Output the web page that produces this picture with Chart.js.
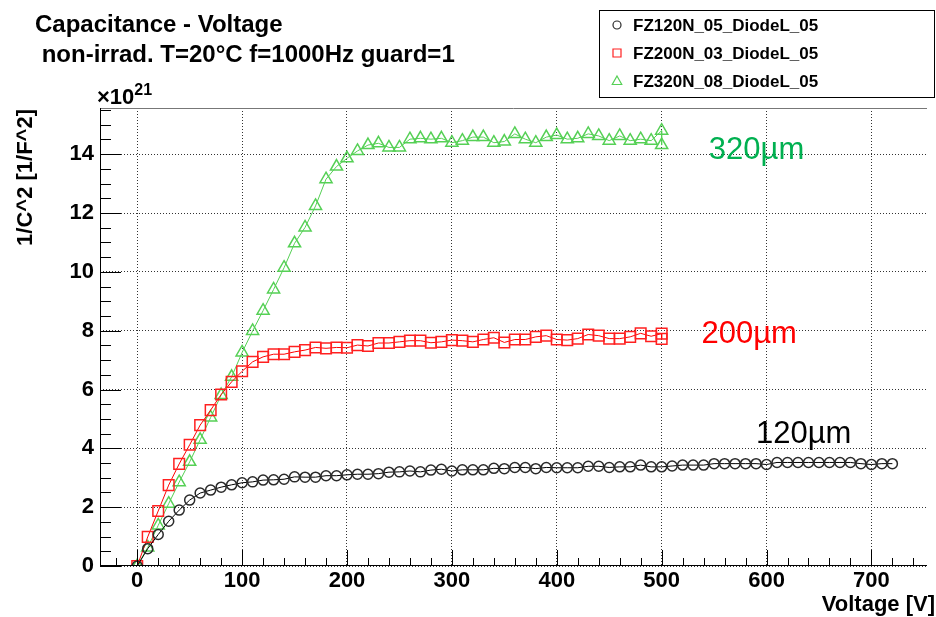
<!DOCTYPE html>
<html>
<head>
<meta charset="utf-8">
<title>Capacitance - Voltage</title>
<script src="https://cdn.jsdelivr.net/npm/chart.js@4/dist/chart.umd.min.js"></script>
<style>
  html, body { margin: 0; padding: 0; background: #fff; overflow: hidden; }
  canvas { display: block; }
</style>
</head>
<body>
<canvas id="cvChart" width="936" height="617"></canvas>
<script>
// bias voltage points [V] for each diode
let volts120 = [0, 10, 20, 30, 40, 50, 60, 70, 80, 90, 100, 110, 120, 130, 140, 150, 160, 170, 180, 190,
    200, 210, 220, 230, 240, 250, 260, 270, 280, 290, 300, 310, 320, 330, 340, 350, 360, 370, 380, 390,
    400, 410, 420, 430, 440, 450, 460, 470, 480, 490, 500, 510, 520, 530, 540, 550, 560, 570, 580, 590,
    600, 610, 620, 630, 640, 650, 660, 670, 680, 690, 700, 710, 720];
let volts200 = [0, 10, 20, 30, 40, 50, 60, 70, 80, 90, 100, 110, 120, 130, 140, 150, 160, 170, 180, 190,
    200, 210, 220, 230, 240, 250, 260, 270, 280, 290, 300, 310, 320, 330, 340, 350, 360, 370, 380, 390,
    400, 410, 420, 430, 440, 450, 460, 470, 480, 490, 500, 500];
let volts320 = [0, 10, 20, 30, 40, 50, 60, 70, 80, 90, 100, 110, 120, 130, 140, 150, 160, 170, 180, 190,
    200, 210, 220, 230, 240, 250, 260, 270, 280, 290, 300, 310, 320, 330, 340, 350, 360, 370, 380, 390,
    400, 410, 420, 430, 440, 450, 460, 470, 480, 490, 500, 500];

// 1/C^2 in units of 1e21 F^-2
let invC2_120 = [0, 0.59, 1.07, 1.52, 1.90, 2.24, 2.48, 2.58, 2.68, 2.76, 2.83, 2.86, 2.92, 2.93, 2.95, 3.03, 3.02, 3.02, 3.07, 3.07,
    3.10, 3.12, 3.12, 3.14, 3.19, 3.20, 3.23, 3.20, 3.26, 3.29, 3.23, 3.27, 3.27, 3.27, 3.32, 3.31, 3.35, 3.35, 3.31, 3.35,
    3.34, 3.34, 3.34, 3.39, 3.39, 3.35, 3.37, 3.37, 3.43, 3.37, 3.37, 3.40, 3.43, 3.43, 3.43, 3.48, 3.48, 3.48, 3.48, 3.48,
    3.45, 3.52, 3.52, 3.52, 3.52, 3.52, 3.52, 3.52, 3.52, 3.48, 3.45, 3.48, 3.48];
let invC2_200 = [0, 0.99, 1.87, 2.75, 3.47, 4.12, 4.79, 5.30, 5.83, 6.26, 6.62, 6.94, 7.11, 7.20, 7.20, 7.28, 7.34, 7.43, 7.40, 7.43,
    7.42, 7.51, 7.48, 7.58, 7.58, 7.62, 7.66, 7.66, 7.59, 7.62, 7.68, 7.66, 7.62, 7.70, 7.76, 7.60, 7.70, 7.70, 7.79, 7.83,
    7.70, 7.68, 7.73, 7.87, 7.83, 7.73, 7.73, 7.79, 7.91, 7.81, 7.90, 7.72];
let invC2_320 = [0, 0.63, 1.38, 2.12, 2.85, 3.54, 4.29, 5.05, 5.81, 6.43, 7.26, 7.99, 8.68, 9.40, 10.14, 10.97, 11.51, 12.24, 13.15, 13.58,
    13.86, 14.11, 14.31, 14.37, 14.23, 14.23, 14.51, 14.54, 14.51, 14.54, 14.39, 14.46, 14.58, 14.58, 14.39, 14.43, 14.69, 14.51, 14.39, 14.58,
    14.65, 14.51, 14.54, 14.69, 14.62, 14.46, 14.62, 14.46, 14.51, 14.46, 14.80, 14.31];

let seriesNames = ["FZ120N_05_DiodeL_05", "FZ200N_03_DiodeL_05", "FZ320N_08_DiodeL_05"];
let thicknessLabels = ["120µm", "200µm", "320µm"];
let xTicks = [0, 100, 200, 300, 400, 500, 600, 700];
let yTicks = [0, 2, 4, 6, 8, 10, 12, 14];

let colors = ["#000000", "#ff0000", "#55d055"];
let markerColors = ["#2a2a2a", "#ff2020", "#55d055"];
let labelColors = ["#000000", "#ff0000", "#00b050"];
let markers = ["circle", "rect", "triangle"];
let markerRadius = [5, 7.5, 7];

const FONT = "'Liberation Sans', Arial, Helvetica, sans-serif";

function toPoints(xs, ys) {
    return xs.map((x, i) => ({x: x, y: ys[i]}));
}

let allVolts = [volts120, volts200, volts320];
let allValues = [invC2_120, invC2_200, invC2_320];

let datasets = seriesNames.map((name, i) => ({
    label: name,
    data: toPoints(allVolts[i], allValues[i]),
    showLine: true,
    borderColor: colors[i],
    borderWidth: 1,
    pointStyle: markers[i],
    pointRadius: markerRadius[i],
    pointHoverRadius: markerRadius[i],
    pointBorderColor: markerColors[i],
    pointBackgroundColor: "rgba(0,0,0,0)",
    pointBorderWidth: 1.5,
    tension: 0
}));

function drawMarker(ctx, style, x, y, r) {
    ctx.beginPath();
    if (style === "circle") {
        ctx.arc(x, y, r, 0, Math.PI * 2);
    } else if (style === "rect") {
        ctx.rect(x - r, y - r, 2 * r, 2 * r);
    } else {
        ctx.moveTo(x, y - r);
        ctx.lineTo(x + r * 0.95, y + r * 0.7);
        ctx.lineTo(x - r * 0.95, y + r * 0.7);
        ctx.closePath();
    }
    ctx.stroke();
}

// ROOT style frame: inner ticks, axis lines, titles, legend box and labels
let rootStyle = {
    id: "rootStyle",
    afterDraw(chart) {
        let ctx = chart.ctx;
        let xs = chart.scales.x, ys = chart.scales.y;
        let area = chart.chartArea;
        ctx.save();

        // frame
        ctx.lineWidth = 1;
        ctx.strokeStyle = "#777";
        ctx.beginPath();
        ctx.moveTo(area.left, area.top + 0.5);
        ctx.lineTo(area.right, area.top + 0.5);
        ctx.stroke();
        ctx.strokeStyle = "#000";
        ctx.beginPath();
        ctx.moveTo(area.left + 0.5, area.top);
        ctx.lineTo(area.left + 0.5, area.bottom);
        ctx.moveTo(area.left, area.bottom - 0.5);
        ctx.lineTo(area.right, area.bottom - 0.5);
        ctx.stroke();

        // ticks on x axis, every 20 V, major every 100 V
        ctx.beginPath();
        for (let v = -20; v <= xs.max; v += 20) {
            let px = Math.round(xs.getPixelForValue(v)) + 0.5;
            let len = v % 100 === 0 ? 16 : 8;
            ctx.moveTo(px, area.bottom);
            ctx.lineTo(px, area.bottom - len);
        }
        // ticks on y axis, every 0.5, major every 2
        for (let v = 0; v <= ys.max; v += 0.5) {
            let py = Math.round(ys.getPixelForValue(v)) + 0.5;
            let len = v % 2 === 0 ? 21 : 11;
            ctx.moveTo(area.left, py);
            ctx.lineTo(area.left + len, py);
        }
        ctx.stroke();

        // title
        ctx.fillStyle = "#000";
        ctx.textAlign = "left";
        ctx.textBaseline = "alphabetic";
        ctx.font = "bold 24px " + FONT;
        ctx.fillText("Capacitance - Voltage", 35, 32);
        ctx.fillText(" non-irrad. T=20°C f=1000Hz guard=1", 35, 62);

        // exponent of the y axis
        ctx.font = "bold 22px " + FONT;
        ctx.fillText("×10", 97, 104);
        let w = ctx.measureText("×10").width;
        ctx.font = "bold 16px " + FONT;
        ctx.fillText("21", 97 + w, 95);

        // axis titles
        ctx.font = "bold 22px " + FONT;
        ctx.textAlign = "right";
        ctx.fillText("Voltage [V]", 935, 611);
        ctx.save();
        ctx.translate(32, area.top + 1);
        ctx.rotate(-Math.PI / 2);
        ctx.fillText("1/C^2 [1/F^2]", 0, 0);
        ctx.restore();

        // thickness labels next to the curves
        ctx.font = "31px " + FONT;
        ctx.textAlign = "left";
        ctx.textBaseline = "middle";
        let labelPos = [[590, 4.48], [538, 7.88], [545, 14.12]];
        labelPos.forEach((p, i) => {
            ctx.fillStyle = labelColors[i];
            ctx.fillText(thicknessLabels[i], xs.getPixelForValue(p[0]), ys.getPixelForValue(p[1]));
        });

        // legend
        ctx.fillStyle = "#fff";
        ctx.fillRect(599.5, 10.5, 335, 87);
        ctx.strokeStyle = "#000";
        ctx.lineWidth = 1;
        ctx.strokeRect(599.5, 10.5, 335, 87);
        ctx.font = "bold 17px " + FONT;
        ctx.textBaseline = "middle";
        let legendY = [25, 53, 81];
        seriesNames.forEach((name, i) => {
            ctx.strokeStyle = markerColors[i];
            ctx.lineWidth = 1.2;
            drawMarker(ctx, markers[i], 617, legendY[i], markers[i] === "triangle" ? 5 : 4);
            ctx.fillStyle = "#000";
            ctx.fillText(name, 633, legendY[i] + 1);
        });

        ctx.restore();
    }
};

let ctx = document.getElementById("cvChart").getContext("2d");

let cvChart = new Chart(ctx, {
    type: "scatter",
    data: {datasets: datasets},
    options: {
        responsive: false,
        animation: false,
        devicePixelRatio: 1,
        layout: {padding: {top: 108, left: 0, right: 0, bottom: 0}},
        plugins: {
            legend: {display: false},
            title: {display: false},
            tooltip: {enabled: false}
        },
        scales: {
            x: {
                type: "linear",
                min: -35.5,
                max: 753,
                afterFit: function (scale) { scale.height = 51; },
                afterBuildTicks: function (scale) {
                    scale.ticks = xTicks.map(v => ({value: v}));
                },
                grid: {color: "#333", lineWidth: 1, drawTicks: false},
                border: {display: false, dash: [1, 2]},
                ticks: {
                    padding: 2,
                    color: "#000",
                    font: {family: FONT, size: 22, weight: "bold"},
                    maxRotation: 0,
                    autoSkip: false,
                    includeBounds: false
                }
            },
            y: {
                type: "linear",
                min: 0,
                max: 15.57,
                afterFit: function (scale) { scale.width = 100; },
                afterBuildTicks: function (scale) {
                    scale.ticks = yTicks.map(v => ({value: v}));
                },
                grid: {color: "#333", lineWidth: 1, drawTicks: false},
                border: {display: false, dash: [1, 2]},
                ticks: {
                    padding: 6,
                    color: "#000",
                    font: {family: FONT, size: 22, weight: "bold"},
                    autoSkip: false,
                    includeBounds: false
                }
            }
        }
    },
    plugins: [rootStyle]
});
</script>
</body>
</html>
